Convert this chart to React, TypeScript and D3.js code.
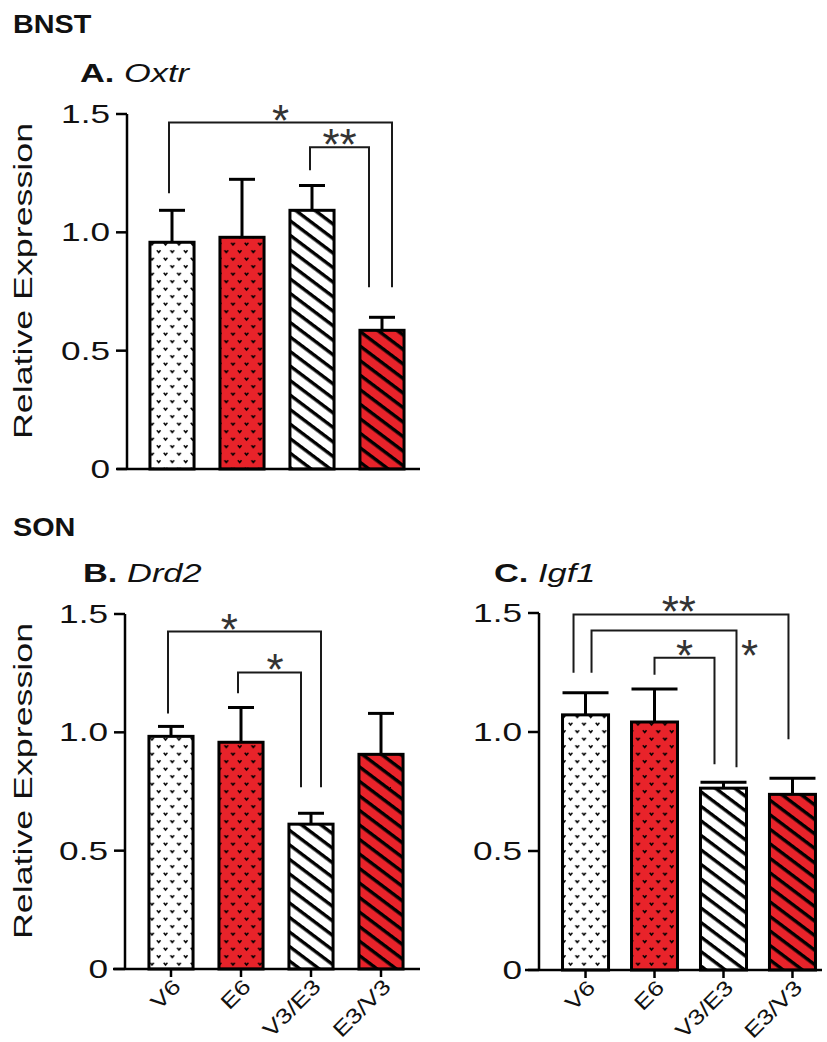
import React, { useEffect, useRef } from "react";
import * as d3 from "d3";

// groups on the x axis
const groups = ["V6", "E6", "V3/E3", "E3/V3"];
const groupFill = ["url(#dotsWhite)", "url(#dotsRed)", "url(#hatchWhite)", "url(#hatchRed)"];

// relative expression, mean and SEM
const oxtrMean = [0.958, 0.979, 1.093, 0.586];
const oxtrSem = [0.135, 0.245, 0.105, 0.055];
const drd2Mean = [0.983, 0.958, 0.612, 0.907];
const drd2Sem = [0.042, 0.147, 0.046, 0.173];
const igf1Mean = [1.072, 1.042, 0.764, 0.738];
const igf1Sem = [0.093, 0.139, 0.025, 0.068];

const yTicks = [0, 0.5, 1.0, 1.5];
const yTickLabels = ["0", "0.5", "1.0", "1.5"];

// significance brackets (values on the y scale), leg offsets in px from bar centre
const oxtrSig = [
  { from: 0, to: 3, top: 1.464, l: 1.165, r: 0.768, dx: [-3, 10], label: "*", t: 0.5 },
  { from: 2, to: 3, top: 1.359, l: 1.262, r: 0.768, dx: [-2, -13], label: "**", t: 0.5 },
];
const drd2Sig = [
  { from: 0, to: 2, top: 1.426, l: 1.08, r: 0.768, dx: [-3, 10], label: "*", t: 0.4 },
  { from: 1, to: 2, top: 1.253, l: 1.165, r: 0.768, dx: [-3, -10], label: "*", t: 0.59 },
];
const igf1Sig = [
  { from: 0, to: 3, top: 1.494, l: 1.249, r: 0.97, dx: [-12, -4], label: "**", t: 0.49 },
  { from: 0, to: 2, top: 1.426, l: 1.249, r: 0.852, dx: [6, 13], label: "*", t: -1 },
  { from: 1, to: 2, top: 1.312, l: 1.241, r: 0.865, dx: [0, -9], label: "*", t: 0.5 },
];

const RED = "#e8232a";
const FONT = "'Liberation Sans', Arial, sans-serif";
const INK = "#111";

function drawPanel(svg, cfg) {
  const { mean, sem, sig, y0, yTop, axisX, range, base, xLabels, yLabelY, capFull } = cfg;
  const g = svg.append("g");
  const x = d3.scaleBand().domain(groups).range(range)
    .paddingInner(capFull ? 0.333 : 0.37).paddingOuter(capFull ? 0.167 : 0.185);
  const y = d3.scaleLinear().domain([0, 1.5]).range([y0, yTop]);
  const bw = x.bandwidth();
  const cx = (i) => x(groups[i]) + bw / 2;

  // error bars (upper only)
  const capW = capFull ? bw : 26;
  groups.forEach((d, i) => {
    g.append("line").attr("x1", cx(i)).attr("x2", cx(i))
      .attr("y1", y(mean[i])).attr("y2", y(mean[i] + sem[i]))
      .attr("stroke", "#000").attr("stroke-width", 3);
    g.append("line").attr("x1", cx(i) - capW / 2).attr("x2", cx(i) + capW / 2)
      .attr("y1", y(mean[i] + sem[i])).attr("y2", y(mean[i] + sem[i]))
      .attr("stroke", "#000").attr("stroke-width", 3);
  });

  // bars
  g.selectAll("rect.bar").data(mean).join("rect").attr("class", "bar")
    .attr("x", (d, i) => x(groups[i]))
    .attr("y", d => y(d))
    .attr("width", bw)
    .attr("height", d => y0 - y(d))
    .attr("fill", (d, i) => groupFill[i])
    .attr("stroke", "#000").attr("stroke-width", 3);

  // y axis
  g.append("line").attr("x1", axisX).attr("x2", axisX).attr("y1", y(1.5)).attr("y2", y0 + 1)
    .attr("stroke", "#000").attr("stroke-width", 2.5);
  yTicks.forEach((v, i) => {
    g.append("line").attr("x1", axisX - 11).attr("x2", axisX).attr("y1", y(v)).attr("y2", y(v))
      .attr("stroke", "#000").attr("stroke-width", 2.5);
    g.append("text").attr("transform", `translate(${axisX - 17},${y(v) + 9}) scale(1.38,1)`)
      .attr("text-anchor", "end").attr("font-family", FONT).attr("font-size", 25.5)
      .attr("fill", INK).text(yTickLabels[i]);
  });

  // x baseline
  g.append("line").attr("x1", base[0]).attr("x2", base[1]).attr("y1", y0).attr("y2", y0)
    .attr("stroke", "#000").attr("stroke-width", 2.5);
  if (xLabels) {
    groups.forEach((d, i) => {
      g.append("line").attr("x1", cx(i)).attr("x2", cx(i)).attr("y1", y0).attr("y2", y0 + 8)
        .attr("stroke", "#000").attr("stroke-width", 2.5);
      g.append("text").attr("transform", `translate(${cx(i) + 11},${y0 + 19}) rotate(-45) scale(1.25,1)`)
        .attr("text-anchor", "end").attr("font-family", FONT).attr("font-size", 21)
        .attr("fill", INK).text(d);
    });
  }

  // y label
  if (yLabelY) {
    g.append("text").attr("transform", `translate(32,${yLabelY}) rotate(-90) scale(1.35,1)`)
      .attr("text-anchor", "middle").attr("font-family", FONT).attr("font-size", 26.5)
      .attr("fill", INK).text("Relative Expression");
  }

  // significance brackets
  sig.forEach(s => {
    const xl = cx(s.from) + s.dx[0];
    const xr = cx(s.to) + s.dx[1];
    const yt = y(s.top);
    g.append("path")
      .attr("d", `M${xl},${y(s.l)}V${yt}H${xr}V${y(s.r)}`)
      .attr("fill", "none").attr("stroke", "#1a1a1a").attr("stroke-width", 2);
    let lx, ly;
    if (s.t < 0) { lx = xr + 13; ly = yt + 15; }
    else { lx = xl + (xr - xl) * s.t; ly = yt - 12; }
    g.append("text").attr("x", lx).attr("y", ly + 25).attr("text-anchor", "middle")
      .attr("font-family", FONT).attr("font-size", 44).attr("fill", "#333").text(s.label);
  });
}

export default function App() {
  const ref = useRef(null);
  useEffect(() => {
    const svg = d3.select(ref.current);
    svg.selectAll("*").remove();

    const defs = svg.append("defs");
    ["dotsWhite", "dotsRed"].forEach((id, k) => {
      const p = defs.append("pattern").attr("id", id).attr("patternUnits", "userSpaceOnUse")
        .attr("width", 13.5).attr("height", 15);
      p.append("rect").attr("width", 13.5).attr("height", 15).attr("fill", k ? RED : "#fff");
      [[3.5, 4], [10.25, 11.5]].forEach(([a, b]) => {
        p.append("path").attr("d", `M${a - 1.8},${b - 1.3}L${a},${b + 1}L${a + 1.8},${b - 1.3}`)
          .attr("fill", "none").attr("stroke", "#000").attr("stroke-width", 1.4);
      });
    });
    ["hatchWhite", "hatchRed"].forEach((id, k) => {
      const p = defs.append("pattern").attr("id", id).attr("patternUnits", "userSpaceOnUse")
        .attr("width", 11.6).attr("height", 11.6).attr("patternTransform", "rotate(37)");
      p.append("rect").attr("width", 11.6).attr("height", 11.6).attr("fill", k ? RED : "#fff");
      p.append("rect").attr("width", 11.6).attr("height", 3.4).attr("fill", "#000");
    });

    const head = (txt, xx, yy) => svg.append("text")
      .attr("transform", `translate(${xx},${yy}) scale(1.13,1)`)
      .attr("font-family", FONT).attr("font-weight", "bold").attr("font-size", 25.5)
      .attr("fill", INK).text(txt);
    head("BNST", 13, 33);
    head("SON", 13, 536);

    const title = (letter, gene, xx, yy) => {
      const t = svg.append("text").attr("transform", `translate(${xx},${yy}) scale(1.3,1)`)
        .attr("font-family", FONT).attr("font-size", 26.5).attr("fill", INK);
      t.append("tspan").attr("font-weight", "bold").text(letter + " ");
      t.append("tspan").attr("font-style", "italic").text(gene);
    };
    title("A.", "Oxtr", 80, 82);
    title("B.", "Drd2", 83, 582);
    title("C.", "Igf1", 494, 582);

    drawPanel(svg, { mean: oxtrMean, sem: oxtrSem, sig: oxtrSig, y0: 469, yTop: 114, axisX: 127,
      range: [137, 417], base: [117, 420], xLabels: false, yLabelY: 281, capFull: false });
    drawPanel(svg, { mean: drd2Mean, sem: drd2Sem, sig: drd2Sig, y0: 969, yTop: 614, axisX: 125,
      range: [136, 416], base: [113, 420], xLabels: true, yLabelY: 781, capFull: false });
    drawPanel(svg, { mean: igf1Mean, sem: igf1Sem, sig: igf1Sig, y0: 970, yTop: 613, axisX: 539,
      range: [551, 827], base: [525, 822], xLabels: true, yLabelY: null, capFull: true });
  }, []);

  return (
    <svg ref={ref} width={827} height={1042}
      style={{ position: "absolute", left: 0, top: 0, background: "#fff" }} />
  );
}
